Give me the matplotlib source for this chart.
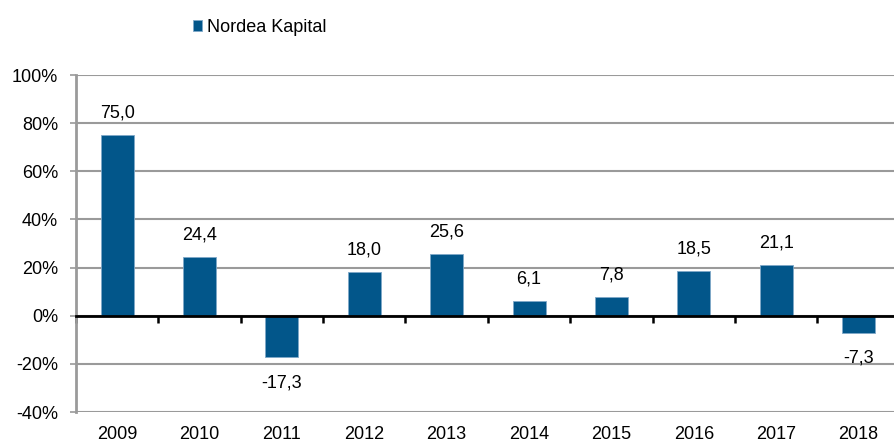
import matplotlib
matplotlib.use("Agg")
import matplotlib.pyplot as plt
import matplotlib.transforms as mtransforms
import numpy as np

years = ["2009", "2010", "2011", "2012", "2013", "2014", "2015", "2016", "2017", "2018"]
values = [75.0, 24.4, -17.3, 18.0, 25.6, 6.1, 7.8, 18.5, 21.1, -7.3]
series_name = "Nordea Kapital"
yticks = [-40, -20, 0, 20, 40, 60, 80, 100]

plt.rcParams['font.family'] = ['Liberation Sans', 'DejaVu Sans']
plt.rcParams['font.size'] = 13

fig = plt.figure(figsize=(8.95, 4.44), dpi=100)
left = 76 / 895
right = 899.7 / 895
bottom = (444 - 412) / 444
top = (444 - 75) / 444
ax = fig.add_axes([left, bottom, right - left, top - bottom])

color = '#02568a'
x = np.arange(len(years))
bars = ax.bar(x, values, width=0.4, color=color, edgecolor='#7fa8c8', linewidth=0.6,
              label=series_name, zorder=3)

ax.set_xlim(-0.5, len(years) - 0.5)
ax.set_ylim(-40, 100)

# gridlines
ax.set_yticks(yticks)
ax.set_yticklabels([f"{t}%" for t in yticks])
ax.yaxis.grid(True, color='#9a9a9a', linewidth=1.5, zorder=0)
ax.tick_params(axis='y', length=4.5, width=1.2, color='#9a9a9a', pad=8.5, labelsize=13)
for t, tl in zip(yticks, ax.yaxis.get_ticklines()[::2]):
    if t == 0:
        tl.set_color('black')

for s in ['top', 'right']:
    ax.spines[s].set_visible(False)
ax.spines['left'].set_color('#9a9a9a')
ax.spines['left'].set_linewidth(2)
ax.spines['bottom'].set_position(('data', 0))
ax.spines['bottom'].set_color('black')
ax.spines['bottom'].set_linewidth(2)
ax.spines['bottom'].set_zorder(4)

ax.set_xticks(np.arange(-0.5, len(years) - 0.5, 1.0))
ax.set_xticklabels([])
ax.tick_params(axis='x', length=5, width=1.8, color='black', direction='out')

trans = mtransforms.blended_transform_factory(ax.transData, ax.transAxes)
for xi, yr in zip(x, years):
    ax.text(xi, -0.068, yr, transform=trans, ha='center', va='center', fontsize=13)

labels = [f"{v:.1f}".replace('.', ',') for v in values]
for b, v, lab in zip(bars, values, labels):
    if v >= 0:
        ax.annotate(lab, (b.get_x() + b.get_width() / 2, v), xytext=(0, 10),
                    textcoords='offset points', ha='center', va='bottom', fontsize=13)
    else:
        ax.annotate(lab, (b.get_x() + b.get_width() / 2, v), xytext=(0, -12),
                    textcoords='offset points', ha='center', va='top', fontsize=13)

fig.legend(loc='upper left', bbox_to_anchor=(184 / 895, 1 - 10 / 444), frameon=False,
           handlelength=0.5, handleheight=0.5, handletextpad=0.3, borderpad=0,
           fontsize=13)

fig.savefig("out.png", dpi=100)
